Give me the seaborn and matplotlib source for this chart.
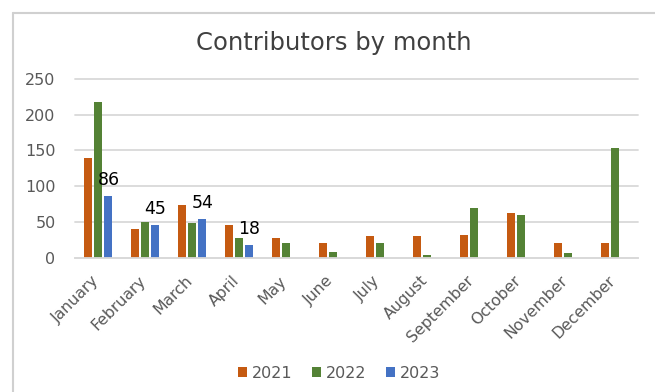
import matplotlib
matplotlib.use("Agg")
import matplotlib.pyplot as plt
import matplotlib.transforms as mtransforms
import seaborn as sns
import pandas as pd
import numpy as np
from matplotlib.lines import Line2D
from matplotlib.patches import Patch

months = ["January", "February", "March", "April", "May", "June", "July",
          "August", "September", "October", "November", "December"]
years = ["2021", "2022", "2023"]
v2021 = [140, 40, 74, 45, 27, 20, 30, 30, 31, 63, 21, 21]
v2022 = [218, 50, 49, 27, 20, 8, 20, 3, 70, 60, 7, 153]
v2023 = [86, 45, 54, 18, None, None, None, None, None, None, None, None]
colors = ["#C55A11", "#548235", "#4472C4"]
title = "Contributors by month"
yticks = [0, 50, 100, 150, 200, 250]

rows = []
for y, vals in zip(years, [v2021, v2022, v2023]):
    for m, v in zip(months, vals):
        if v is not None:
            rows.append({"Month": m, "Year": y, "Value": v})
df = pd.DataFrame(rows)

sns.set_theme(style="white")
plt.rcParams["font.family"] = ["DejaVu Sans"]

fig = plt.figure(figsize=(6.55, 3.92), dpi=100)
W, H = 655, 392
ax = fig.add_axes([75 / W, 1 - 257.5 / H, (638 - 75) / W, (257.5 - 79) / H])

sns.barplot(data=df, x="Month", y="Value", hue="Year", order=months,
            hue_order=years, palette=colors, width=0.64, gap=0.2,
            saturation=1, ax=ax, legend=False, edgecolor="none")

ax.set_ylim(0, 250)
ax.set_xlim(-0.5, 11.5)
ax.set_yticks(yticks)
ax.set_yticklabels([str(t) for t in yticks], fontsize=11.5, color="#595959")
ax.set_xticks(range(len(months)))
ax.set_xticklabels(months, rotation=45, ha="right", va="center",
                   rotation_mode="anchor", fontsize=11.3, color="#595959")
ax.tick_params(axis="x", length=0, pad=15)
ax.tick_params(axis="y", length=0, pad=14)
offset = mtransforms.ScaledTranslation(-2 / 100, 0, fig.dpi_scale_trans)
for lbl in ax.get_xticklabels():
    lbl.set_transform(lbl.get_transform() + offset)
ax.set_xlabel("")
ax.set_ylabel("")
for s in ["top", "right", "left"]:
    ax.spines[s].set_visible(False)
ax.spines["bottom"].set_color("#D9D9D9")
ax.spines["bottom"].set_linewidth(1.3)
ax.yaxis.grid(True, color="#D9D9D9", linewidth=1.3)
ax.set_axisbelow(True)
for gl in ax.get_ygridlines():
    gl.set_clip_on(False)

# data labels for 2023
cont = ax.containers[2]
ax.bar_label(cont, fmt="%.0f", padding=5, fontsize=12.5, color="black")

fig.text(334 / W, 1 - 43 / H, title, ha="center", va="center",
         fontsize=17.5, color="#404040")

handles = [Patch(facecolor=c, edgecolor="none") for c in colors]
fig.legend(handles, years, loc="center", bbox_to_anchor=(339 / W, 1 - 373 / H),
           ncol=3, frameon=False, fontsize=11.5, handlelength=0.6,
           handleheight=0.6, handletextpad=0.3, columnspacing=1.2,
           labelcolor="#595959")

# chart border (top and left edges)
fig.add_artist(Line2D([13 / W, 1], [1 - 13 / H, 1 - 13 / H], color="#D0D0D0",
                      linewidth=1.5, transform=fig.transFigure))
fig.add_artist(Line2D([13 / W, 13 / W], [0, 1 - 13 / H], color="#D0D0D0",
                      linewidth=1.5, transform=fig.transFigure))

fig.savefig("out.png", dpi=100)
